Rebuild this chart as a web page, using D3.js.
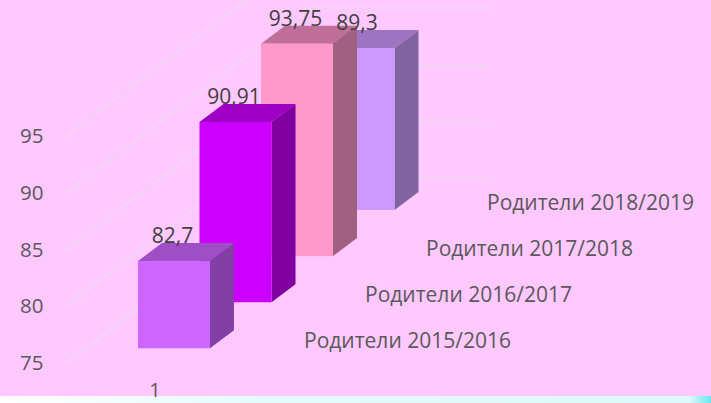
<!DOCTYPE html>
<html><head><meta charset="utf-8">
<script src="https://cdn.jsdelivr.net/npm/d3@7/dist/d3.min.js"></script>
<style>html,body{margin:0;padding:0;background:#FFC8FF;overflow:hidden}svg{display:block}text{font-family:"Open Sans",sans-serif}</style>
</head><body><svg id="c" width="711" height="403"></svg>
<script>
const seriesNames = ["Родители 2015/2016","Родители 2016/2017","Родители 2017/2018","Родители 2018/2019"];
const seriesValues = [82.7, 90.91, 93.75, 89.3];
const valueLabels = ["82,7","90,91","93,75","89,3"];
const tickValues = [75,80,85,90,95];
const gridValues = [75,80,85,90,95];
const categories = ["1"];
const frontColors = ["#CC66FF","#CC00FF","#FF99CC","#CC99FF"];
const topColors = ["#9E4FC6","#9E00C6","#C07098","#9C74C2"];
const sideColors = ["#8240A6","#8000A0","#A06080","#8064A2"];

const svg = d3.select("#c");
const W = 711, H = 403;
const defs = svg.append("defs");
const g0 = defs.append("linearGradient").attr("id","strip");
[[0,"#ffffff"],[0.35,"#e6fbfb"],[0.97,"#dcf8f8"],[1,"#66e8ee"]].forEach(s=>g0.append("stop").attr("offset",s[0]).attr("stop-color",s[1]));
svg.append("rect").attr("width",W).attr("height",H).attr("fill","#FFC8FF");
svg.append("rect").attr("y",396).attr("width",W).attr("height",7).attr("fill","url(#strip)");

// value → height on the left wall
const y = d3.scaleLinear().domain([75,95]).range([363,136.4]);
const unitH = v => y(75) - y(v);
// depth position of each series
const depth = d3.scalePoint().domain(d3.range(seriesNames.length)).range([0,3]);
const baseX = d3.scaleLinear().domain([0,3]).range([138,322.5]);
const baseY = d3.scaleLinear().domain([0,3]).range([348.3,210]);
const barW = 72, dx = 24, dy = 18;

// gridlines: left wall then right-hand wall
const wallX0 = 66, cornerX = 310, wallX1 = 489, wallDy = 185;
const grid = svg.append("g").attr("fill","none").attr("stroke","#E9D6EC").attr("stroke-width",1.3);
gridValues.forEach(v=>{
  const yy = y(v);
  grid.append("path").attr("d",d3.line()([[wallX0,yy],[cornerX,yy-wallDy],[wallX1,yy-wallDy]]));
});

// y axis labels
const axis = d3.axisLeft(y).tickValues(tickValues).tickSize(0).tickPadding(0);
const ag = svg.append("g").attr("transform","translate(43.5,0)").call(axis);
ag.select(".domain").remove();
ag.selectAll("text").attr("font-size",20.5).attr("fill","#595959").style("font-family",'"Open Sans",sans-serif');

// bars back to front
const order = d3.range(seriesValues.length).reverse();
const bars = svg.append("g").selectAll("g").data(order).join("g");
bars.each(function(i){
  const g = d3.select(this), d = depth(i);
  const x0 = baseX(d), yb = baseY(d), yt = yb - unitH(seriesValues[i]), x1 = x0 + barW;
  g.append("path").attr("fill",sideColors[i]).attr("d",d3.line()([[x1,yt],[x1+dx,yt-dy],[x1+dx,yb-dy],[x1,yb]])+"Z");
  g.append("path").attr("fill",topColors[i]).attr("d",d3.line()([[x0,yt],[x0+dx,yt-dy],[x1+dx,yt-dy],[x1,yt]])+"Z");
  g.append("rect").attr("x",x0).attr("y",yt).attr("width",barW).attr("height",yb-yt).attr("fill",frontColors[i]);
});

// value labels
svg.append("g").selectAll("text").data(d3.range(seriesValues.length)).join("text")
  .attr("x",i=>baseX(depth(i))+barW/2)
  .attr("y",i=>baseY(depth(i))-unitH(seriesValues[i])-18)
  .attr("dx",-1.5)
  .attr("text-anchor","middle").attr("font-size",21).attr("fill","#404040")
  .text(i=>valueLabels[i]);

// series labels along the depth axis
const nameX = d3.scaleLinear().domain([0,3]).range([304,487]);
const nameY = d3.scaleLinear().domain([0,3]).range([347.5,209.5]);
svg.append("g").selectAll("text").data(seriesNames).join("text")
  .attr("x",(d,i)=>nameX(i)).attr("y",(d,i)=>nameY(i))
  .attr("font-size",21).attr("fill","#595959").text(d=>d);

// category label
svg.append("text").attr("x",155).attr("y",397).attr("text-anchor","middle")
  .attr("font-size",20).attr("fill","#595959").text(categories[0]);
</script></body></html>
